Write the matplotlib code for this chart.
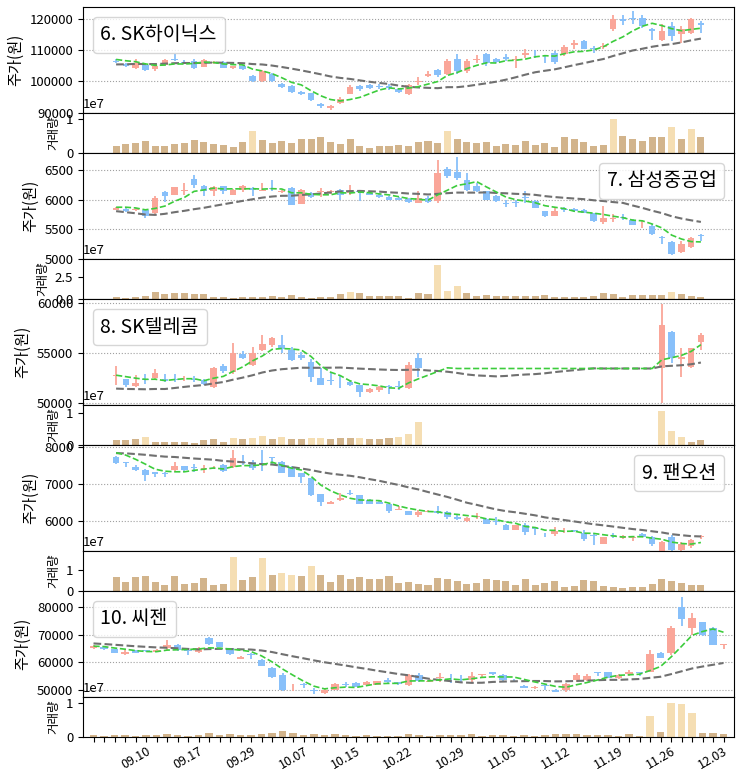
import numpy as np
import pandas as pd
import matplotlib
matplotlib.use("Agg")
import matplotlib.pyplot as plt
from matplotlib.ticker import MultipleLocator
from matplotlib.lines import Line2D

plt.rcParams['font.family'] = ['Noto Sans CJK KR', 'DejaVu Sans']
plt.rcParams['axes.unicode_minus'] = False

# ---------------- data ----------------
dates = ['09.03', '09.06', '09.07', '09.08', '09.09', '09.10', '09.13', '09.14', '09.15', '09.16',
         '09.17', '09.23', '09.24', '09.27', '09.28', '09.29', '09.30', '10.01', '10.05', '10.06',
         '10.07', '10.08', '10.12', '10.13', '10.14', '10.15', '10.18', '10.19', '10.20', '10.21',
         '10.22', '10.25', '10.26', '10.27', '10.28', '10.29', '11.01', '11.02', '11.03', '11.04',
         '11.05', '11.08', '11.09', '11.10', '11.11', '11.12', '11.15', '11.16', '11.17', '11.18',
         '11.19', '11.22', '11.23', '11.24', '11.25', '11.26', '11.29', '11.30', '12.01', '12.02',
         '12.03']

# 6. SK하이닉스
hynix_open = [106600, 105600, 104400, 105100, 103800, 105300, 107000, 106300, 106600, 104700,
              105800, 106200, 104300, 104800, 101700, 100100, 102200, 99000, 98500, 96600,
              96100, 92600, 91300, 93200, 96000, 98400, 98800, 98500, 98400, 97600,
              95800, 99900, 101700, 103600, 102200, 107000, 103300, 106900, 108600, 107000,
              107900, 106800, 108300, 109800, 108200, 109200, 108600, 111600, 112900, 110700,
              110900, 116600, 119900, 120400, 120300, 116600, 113200, 117700, 115000, 115500,
              118700]
hynix_high = [107000, 106000, 107000, 105400, 105300, 107200, 108600, 106800, 107000, 107300,
              106600, 106500, 105000, 105200, 102100, 103600, 102800, 99600, 98900, 97000,
              96400, 93000, 92500, 95000, 98700, 98700, 99100, 99000, 99000, 97900,
              99100, 101500, 103300, 104000, 107000, 108600, 107000, 108300, 109200, 107600,
              108600, 108100, 110200, 110000, 108300, 109700, 111500, 113200, 113200, 111300,
              112300, 121100, 121100, 122500, 121100, 117100, 118200, 119000, 117700, 120300,
              119300]
hynix_low = [105800, 104600, 104000, 103200, 103400, 105100, 106500, 105500, 104000, 104500,
             105500, 104200, 104000, 103600, 99800, 99800, 99900, 97700, 96200, 95600,
             93700, 91600, 90700, 92700, 95800, 97000, 97600, 97400, 97200, 96300,
             95500, 98700, 101400, 101500, 101900, 102200, 102800, 106000, 104900, 105800,
             106500, 104400, 107600, 107600, 106000, 105500, 108100, 110400, 110200, 109100,
             110200, 116100, 118100, 118200, 117100, 113200, 113000, 112900, 112300, 115300,
             115500]
hynix_close = [106200, 104900, 106000, 103500, 104900, 106700, 106700, 105900, 104400, 106900,
               106200, 104400, 104800, 104000, 100100, 103300, 100100, 98200, 96600, 96000,
               94000, 92000, 92200, 94300, 98300, 97400, 97900, 98100, 97800, 96600,
               98700, 100200, 102200, 101900, 106500, 103300, 106500, 107300, 106000, 106200,
               107000, 107200, 109200, 109600, 108000, 106300, 111100, 112200, 110400, 110200,
               111400, 119800, 119400, 119900, 117700, 116100, 116100, 114500, 116600, 119800,
               118000]
hynix_volume = [2.0, 2.7, 2.9, 3.4, 2.0, 2.0, 2.7, 3.0, 3.7, 3.3,
                2.6, 2.3, 1.8, 3.1, 6.5, 3.9, 2.9, 3.4, 2.9, 4.0,
                4.2, 4.8, 3.1, 2.6, 4.2, 2.0, 1.5, 2.0, 2.1, 2.4,
                2.1, 3.1, 3.4, 2.9, 6.5, 4.0, 3.1, 2.9, 3.1, 2.1,
                2.6, 2.4, 3.4, 2.4, 2.9, 1.8, 4.8, 4.0, 3.1, 2.1,
                2.4, 10.0, 5.0, 4.0, 3.4, 4.6, 4.6, 7.6, 4.2, 7.0,
                4.6]  # million shares
hynix_prev_close = [104000, 103500, 104500, 105000, 104000, 103800, 104500, 105000, 105200, 104600,
                    105500, 106000, 105800, 105600, 106000, 107000, 107500, 107000, 107300]
hynix_high_volume_days = ['09.28', '10.28', '11.22', '11.30', '12.02']

# 7. 삼성중공업
shi_open = [5830, 5840, 5820, 5815, 5775, 6130, 6085, 6150, 6350, 6225,
            6140, 6225, 6085, 6170, 6200, 6150, 6200, 6130, 6200, 5925,
            6110, 6120, 6120, 6170, 6110, 6150, 6110, 6080, 6040, 6030,
            6015, 5945, 6030, 5970, 6520, 6465, 6340, 6225, 6140, 6055,
            5950, 5960, 6040, 5970, 5800, 5720, 5840, 5840, 5830, 5775,
            5625, 5670, 5710, 5660, 5560, 5550, 5370, 5285, 5115, 5195,
            5400]
shi_high = [5880, 5850, 5850, 5830, 6060, 6140, 6220, 6280, 6420, 6240,
            6225, 6225, 6180, 6250, 6210, 6280, 6340, 6170, 6210, 6180,
            6120, 6200, 6160, 6185, 6240, 6170, 6130, 6100, 6060, 6040,
            6020, 6140, 6055, 6675, 6560, 6730, 6450, 6280, 6150, 6070,
            6000, 6000, 6140, 5985, 5810, 5870, 5870, 5850, 5840, 5780,
            5890, 5747, 5750, 5670, 5630, 5580, 5385, 5290, 5300, 5360,
            5410]
shi_low = [5820, 5790, 5800, 5680, 5760, 5960, 6070, 6085, 6200, 6055,
           6055, 6095, 6080, 6130, 6055, 6140, 6140, 6110, 5905, 5920,
           6020, 6040, 6100, 5985, 6085, 5975, 6070, 6020, 5985, 5990,
           5950, 5945, 5945, 5945, 6365, 6340, 6140, 6130, 5990, 5960,
           5870, 5870, 5940, 5850, 5710, 5720, 5790, 5790, 5770, 5620,
           5590, 5620, 5660, 5560, 5520, 5400, 5240, 5060, 5100, 5180,
           5300]
shi_close = [5860, 5800, 5840, 5720, 6030, 6055, 6210, 6160, 6240, 6150,
             6210, 6140, 6170, 6235, 6170, 6170, 6180, 6140, 5915, 6170,
             6040, 6140, 6140, 6085, 6150, 6120, 6085, 6040, 6000, 6000,
             5960, 6030, 5960, 6450, 6395, 6365, 6170, 6140, 6000, 5970,
             5930, 5950, 6020, 5860, 5720, 5800, 5830, 5800, 5780, 5635,
             5690, 5680, 5680, 5570, 5575, 5420, 5350, 5070, 5240, 5355,
             5390]
shi_volume = [2.7, 1.5, 2.7, 3.8, 8.0, 5.7, 6.8, 6.8, 5.7, 5.7,
              2.7, 2.7, 1.5, 2.7, 2.7, 2.7, 3.8, 2.7, 4.5, 2.7,
              1.5, 2.7, 2.7, 5.7, 8.0, 6.8, 3.8, 3.8, 3.8, 3.8,
              1.5, 7.2, 5.7, 38.6, 9.5, 14.8, 6.8, 3.8, 4.5, 3.8,
              3.8, 3.8, 3.8, 3.8, 4.5, 2.7, 2.7, 2.7, 2.7, 3.8,
              6.8, 5.7, 2.7, 4.5, 4.5, 4.5, 4.5, 8.3, 5.7, 3.8,
              2.7]
shi_prev_close = [6150, 6200, 6150, 6150, 5700, 5650, 5700, 5680, 5685, 5600,
                  5550, 5600, 5650, 5620, 5625, 5800, 5900, 5880, 5910]
shi_high_volume_days = ['10.14', '10.27', '10.28', '10.29', '11.30']

# 8. SK텔레콤 (trading halted 10.26 - 11.26)
skt_open = [52730, 52380, 51710, 52380, 52450, 52450, 52380, 52380, 52380, 52280,
            51610, 53720, 53120, 54870, 53790, 55300, 55800, 55810, 55300, 54800,
            54130, 52450, 52300, 52640, 52110, 51770, 51100, 51300, 51700, 51700,
            51500, 54460] + [None] * 24 + [53450, 57080, 54430, 53620, 56140]
skt_high = [53720, 52450, 52780, 52950, 53390, 52950, 52950, 52720, 52720, 52380,
            53620, 53860, 55970, 55200, 55640, 56810, 56650, 56810, 55640, 55130,
            54400, 53520, 53050, 52850, 52180, 51840, 51540, 51700, 51840, 52180,
            54130, 54960] + [None] * 24 + [59900, 57220, 55540, 55540, 56980]
skt_low = [51770, 51610, 51610, 51950, 52280, 52110, 52110, 52180, 52110, 51800,
           51500, 53050, 52950, 54400, 53690, 55200, 55640, 54960, 54200, 54270,
           52110, 51840, 51840, 51500, 51700, 50600, 51000, 51150, 50940, 51300,
           51440, 52620] + [None] * 24 + [50000, 53960, 52620, 53520, 55300]
skt_close = [52850, 51770, 52040, 52280, 52950, 52180, 52280, 52450, 52280, 51940,
             53450, 53180, 54960, 54530, 54960, 55870, 56480, 55400, 54300, 54460,
             52620, 51840, 52200, 52580, 51840, 51100, 51440, 51600, 51600, 51600,
             53790, 53450] + [None] * 24 + [57820, 54460, 54600, 55470, 56810]
skt_volume = [1.5, 1.5, 1.8, 2.6, 1.1, 0.9, 0.9, 0.9, 0.6, 1.5,
              1.8, 0.9, 2.3, 1.8, 2.1, 2.9, 1.8, 2.6, 1.8, 1.8,
              2.3, 2.1, 1.8, 2.1, 2.1, 2.3, 1.8, 1.8, 2.1, 2.4,
              3.5, 7.2] + [0] * 24 + [10.8, 4.4, 2.4, 1.1, 1.5]
skt_prev_close = [52500, 52300, 52600, 52400, 52220, 50300, 50200, 50250, 50200, 50300,
                  50400, 50250, 50350, 50300, 50330, 52500, 52800, 52850, 52900]
skt_high_volume_days = ['09.08', '09.24', '09.28', '09.29', '10.01', '10.07', '10.08', '10.15',
                        '10.21', '10.22', '10.25', '11.29', '11.30', '12.01']

# 9. 팬오션
pan_open = [7745, 7590, 7473, 7380, 7336, 7300, 7380, 7490, 7460, 7410,
            7430, 7510, 7473, 7600, 7610, 7580, 7730, 7610, 7473, 7290,
            7155, 6727, 6455, 6560, 6760, 6700, 6560, 6520, 6470, 6300,
            6270, 6160, 6250, 6270, 6240, 6110, 5990, 6110, 6060, 5990,
            5880, 5760, 5880, 5790, 5620, 5640, 5740, 5750, 5670, 5600,
            5380, 5600, 5520, 5520, 5650, 5545, 5090, 5560, 5200, 5310,
            5560]
pan_high = [7764, 7610, 7520, 7400, 7336, 7336, 7610, 7500, 7545, 7520,
            7480, 7545, 7927, 7790, 7655, 7927, 7745, 7640, 7490, 7290,
            7160, 6730, 6540, 6760, 6850, 6710, 6580, 6540, 6470, 6410,
            6270, 6290, 6290, 6400, 6270, 6150, 6090, 6220, 6080, 6090,
            5900, 5890, 5930, 5810, 5660, 5820, 5790, 5760, 5750, 5660,
            5550, 5670, 5600, 5585, 5660, 5580, 5450, 5610, 5430, 5490,
            5600]
pan_low = [7545, 7470, 7360, 7090, 7200, 7200, 7336, 7360, 7336, 7290,
           7400, 7336, 7430, 7520, 7380, 7360, 7560, 7290, 7180, 7020,
           6680, 6400, 6450, 6545, 6700, 6470, 6460, 6450, 6200, 6290,
           6150, 6110, 6250, 6180, 6060, 6020, 5980, 6040, 5900, 5880,
           5750, 5750, 5610, 5610, 5550, 5580, 5660, 5700, 5460, 5340,
           5380, 5520, 5510, 5450, 5550, 5310, 5090, 5150, 5110, 5270,
           5490]
pan_close = [7564, 7570, 7380, 7245, 7270, 7290, 7490, 7380, 7440, 7430,
             7450, 7360, 7700, 7580, 7430, 7560, 7710, 7290, 7180, 7180,
             6700, 6518, 6518, 6610, 6720, 6470, 6470, 6470, 6270, 6330,
             6155, 6240, 6270, 6220, 6090, 6050, 6080, 6130, 5910, 5970,
             5760, 5880, 5700, 5770, 5610, 5730, 5750, 5730, 5490, 5580,
             5545, 5585, 5585, 5545, 5560, 5360, 5430, 5200, 5360, 5470,
             5580]
pan_volume = [6.7, 4.3, 6.7, 7.5, 4.3, 2.9, 7.1, 3.5, 4.0, 6.2,
              2.9, 3.5, 16.7, 5.4, 6.7, 16.3, 7.6, 8.9, 7.9, 7.1,
              12.4, 7.6, 4.3, 7.6, 5.9, 6.7, 5.6, 5.9, 7.1, 3.7,
              4.4, 3.2, 2.9, 6.2, 5.7, 4.8, 3.2, 3.7, 5.7, 5.2,
              4.8, 2.9, 5.7, 2.9, 4.1, 4.8, 2.1, 2.4, 5.2, 4.8,
              2.4, 2.1, 1.6, 2.1, 2.1, 3.2, 5.7, 4.8, 3.7, 2.9,
              2.9]
pan_prev_close = [7700, 7750, 7650, 7800, 7750, 7700, 7800, 7850, 7750, 7790,
                  8000, 8050, 7950, 8100, 7950, 7900, 7950, 7900, 7960]
pan_high_volume_days = ['09.24', '09.29', '10.01', '10.05', '10.07']

# 10. 씨젠
sg_open = [65020, 65610, 64660, 62990, 64420, 64300, 63820, 65020, 66210, 64300,
           63820, 68600, 67170, 65020, 61190, 62990, 60840, 57850, 55460, 50680,
           52110, 49960, 48890, 50080, 52230, 52470, 51990, 51870, 53660, 52830,
           51870, 55460, 53070, 54380, 54140, 54020, 53660, 55460, 56410, 55460,
           53780, 51630, 51000, 51870, 50080, 50080, 53660, 53660, 56410, 56410,
           54260, 55700, 56410, 56650, 63460, 63220, 79950, 72180, 74340, 72420,
           66210]
sg_high = [66210, 65850, 64900, 64420, 64540, 64540, 64660, 68000, 66450, 65020,
           65500, 69200, 67400, 65260, 62150, 63220, 61070, 58450, 56050, 52110,
           52470, 50680, 50440, 52470, 52830, 52830, 53300, 53420, 54260, 53060,
           55940, 56050, 53900, 56050, 55700, 55460, 56650, 55940, 56650, 55700,
           54020, 51870, 51630, 52110, 50320, 52470, 56050, 55700, 56410, 56650,
           55940, 57250, 56410, 64420, 63700, 73140, 83540, 77560, 74580, 72780,
           66690]
sg_low = [64660, 64540, 63340, 62630, 63340, 63580, 63700, 64420, 64180, 62630,
          63460, 66210, 65380, 62630, 61070, 61190, 58560, 54260, 49720, 49720,
          50920, 48530, 48770, 49960, 51150, 51150, 51870, 51750, 52110, 51990,
          51640, 53070, 52950, 53070, 52470, 52830, 53070, 54620, 55460, 53070,
          53300, 50800, 50440, 50080, 49360, 49480, 53070, 53300, 55220, 54380,
          53900, 55220, 55220, 56410, 61430, 62630, 73140, 69800, 69560, 66210,
          64660]
sg_close = [65850, 64660, 63460, 63820, 63460, 64180, 64420, 66210, 64420, 64060,
            65020, 66450, 65610, 62870, 62030, 62510, 58800, 54860, 50080, 50920,
            51870, 49720, 50080, 52110, 52000, 51270, 53070, 53300, 52830, 52110,
            55460, 53300, 53300, 54620, 53900, 53780, 55220, 55700, 55700, 53660,
            53660, 50920, 51270, 51750, 49480, 52110, 55460, 55220, 56290, 54500,
            55460, 56410, 56290, 62870, 61670, 72420, 75530, 76000, 69800, 66210,
            66570]
sg_volume = [0.6, 0.4, 0.7, 0.7, 0.4, 0.7, 0.7, 1.0, 0.7, 0.4,
             0.7, 1.3, 0.7, 1.0, 0.7, 0.7, 1.0, 1.25, 1.8, 1.3,
             0.7, 1.0, 0.7, 1.0, 0.7, 0.4, 0.7, 0.4, 0.4, 0.4,
             1.0, 0.7, 0.4, 0.7, 0.7, 0.7, 1.0, 0.4, 0.7, 0.7,
             0.4, 0.7, 0.4, 0.7, 1.0, 1.0, 1.0, 0.7, 0.7, 0.7,
             0.4, 1.0, 0.4, 6.1, 1.5, 10.2, 9.9, 7.0, 1.3, 1.3,
             1.0]
sg_prev_close = [69000, 68500, 69200, 68800, 68400, 68600, 68700, 68300, 68500, 68710,
                 64000, 63800, 64200, 64100, 64140, 65500, 66000, 65900, 66000]
sg_high_volume_days = ['11.24', '11.26', '11.29', '11.30']

stock_names = ['6. SK하이닉스', '7. 삼성중공업', '8. SK텔레콤', '9. 팬오션', '10. 씨젠']
stocks = [
    (hynix_open, hynix_high, hynix_low, hynix_close, hynix_volume, hynix_prev_close, hynix_high_volume_days),
    (shi_open, shi_high, shi_low, shi_close, shi_volume, shi_prev_close, shi_high_volume_days),
    (skt_open, skt_high, skt_low, skt_close, skt_volume, skt_prev_close, skt_high_volume_days),
    (pan_open, pan_high, pan_low, pan_close, pan_volume, pan_prev_close, pan_high_volume_days),
    (sg_open, sg_high, sg_low, sg_close, sg_volume, sg_prev_close, sg_high_volume_days),
]

# ---------------- style / layout ----------------
price_ylims = [(90000, 123800), (5000, 6790), (49850, 60400), (5190, 8065), (47800, 85600)]
price_steps = [10000, 500, 5000, 1000, 10000]
vol_steps = [1e7, 2.5e7, 1e7, 1e7, 1e7]
legend_locs = ['upper left', 'upper right', 'upper left', 'upper right', 'upper left']
UP, DOWN = '#FAA699', '#88C0FA'
VOL, VOL_HI = '#D2B48C', '#F5DEB3'
TICK_FS = 9.5

W_PX, H_PX = 743, 773
fig = plt.figure(figsize=(W_PX / 100, H_PX / 100), dpi=100)
left, right = 83, 734
x = np.arange(len(dates))

vol_axes = []
for k, (name, data) in enumerate(zip(stock_names, stocks)):
    o, h, l, c, v, prev, hi_days = data
    top = 7 + 146 * k
    mid = top + 105.5
    bot = top + 146
    axp = fig.add_axes([left / W_PX, 1 - mid / H_PX, (right - left) / W_PX, (mid - top) / H_PX])
    axv = fig.add_axes([left / W_PX, 1 - bot / H_PX, (right - left) / W_PX, (bot - mid) / H_PX],
                       sharex=axp)
    vol_axes.append(axv)

    o = np.array([np.nan if t is None else t for t in o], float)
    h = np.array([np.nan if t is None else t for t in h], float)
    l = np.array([np.nan if t is None else t for t in l], float)
    c = np.array([np.nan if t is None else t for t in c], float)
    v = np.array(v, float) * 1e6
    ok = ~np.isnan(c)

    up = c >= o
    cols = np.where(up, UP, DOWN)
    ylo, yhi = price_ylims[k]
    min_body = (yhi - ylo) * 0.006
    body = np.maximum(np.abs(c - o), min_body)
    base = np.minimum(o, c) - (body - np.abs(c - o)) / 2

    axp.grid(axis='y', linestyle=':', color='#a0a0a0', linewidth=0.8, zorder=0)
    axp.vlines(x[ok], l[ok], h[ok], colors=cols[ok], linewidth=1.3, zorder=2)
    axp.bar(x[ok], body[ok], bottom=base[ok], width=0.68, color=cols[ok], zorder=3)

    closes = pd.Series(list(prev) + list(c)).ffill()
    ma5 = closes.rolling(5).mean().values[len(prev):]
    ma20 = closes.rolling(20).mean().values[len(prev):]
    axp.plot(x, ma20, color='#707070', linestyle='--', linewidth=1.5, zorder=4)
    axp.plot(x, ma5, color='#3ccc3c', linestyle='--', linewidth=1.2, zorder=4)

    axp.set_ylim(ylo, yhi)
    axp.yaxis.set_major_locator(MultipleLocator(price_steps[k]))
    axp.set_ylabel('주가(원)', fontsize=11)
    axp.tick_params(axis='y', labelsize=TICK_FS)
    axp.tick_params(axis='x', bottom=False, labelbottom=False)
    handle = Line2D([], [], linestyle='none')
    axp.legend([handle], [name], loc=legend_locs[k], handlelength=0, handletextpad=0,
               fontsize=14)

    vcols = [VOL_HI if d in hi_days else VOL for d in dates]
    axv.bar(x, v, width=0.72, color=vcols, zorder=2)
    axv.set_ylim(0, np.nanmax(v) * 1.18)
    axv.yaxis.set_major_locator(MultipleLocator(vol_steps[k]))
    axv.set_ylabel('거래량', fontsize=9)
    axv.tick_params(axis='y', labelsize=TICK_FS)
    axv.yaxis.get_offset_text().set_fontsize(TICK_FS)

axv = vol_axes[-1]
axv.set_xlim(-1, 61)
axv.set_xticks(x)
axv.set_xticklabels([d if (i % 5 == 0 and i > 0) else '' for i, d in enumerate(dates)],
                    rotation=30, ha='right', rotation_mode='anchor', fontsize=9)
axv.tick_params(axis='x', pad=2)
for ax in vol_axes[:-1]:
    ax.tick_params(axis='x', bottom=False, labelbottom=False)

fig.savefig('out.png', dpi=100)
